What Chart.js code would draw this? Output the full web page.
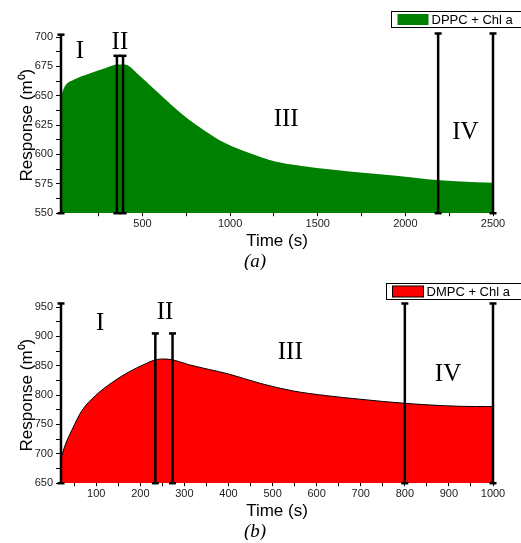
<!DOCTYPE html>
<html>
<head>
<meta charset="utf-8">
<script src="https://cdn.jsdelivr.net/npm/chart.js@4.4.1/dist/chart.umd.min.js"></script>
<style>
  body { margin: 0; background: #fff; }
  canvas { display: block; }
</style>
</head>
<body>
<canvas id="chartA" width="521" height="270"></canvas>
<canvas id="chartB" width="521" height="270"></canvas>
<script>
// panel (a) : DPPC + Chl a
const timeA = [35, 57, 114, 190, 286, 362, 400, 476, 571, 667, 762, 857, 971, 1114, 1257, 1400, 1590, 1743, 1933, 2124, 2314, 2500];
const respA = [650, 658, 664, 668.5, 673.5, 676.5, 676.5, 668, 655, 642, 630, 620, 609.7, 601, 594, 590.4, 587, 584.7, 582, 579, 577, 576];
const markTimeA = [35, 354, 389, 2187, 2500];
const markTopA = [702, 684, 684, 703, 703];
const regionsA = [["I", 143, 688], ["II", 371, 695.5], ["III", 1320, 630], ["IV", 2343, 619]];
const xMajorA = [500, 1000, 1500, 2000, 2500];
const xMinorA = [250, 750, 1250, 1750, 2250];
const yMajorA = [550, 575, 600, 625, 650, 675, 700];
const yMinorA = [562.5, 587.5, 612.5, 637.5, 662.5, 687.5];

// panel (b) : DMPC + Chl a
const timeB = [20, 30, 45, 67, 98, 135, 173, 211, 234, 256, 279, 309, 354, 400, 472, 547, 623, 698, 800, 887, 963, 1000];
const respB = [693, 716, 741, 773, 799, 821, 839, 853, 860, 861.5, 859, 852, 844, 836, 820, 807, 799, 793, 786, 782, 780.5, 780.5];
const markTimeB = [20, 234, 273, 800, 1000];
const markTopB = [956, 905, 905, 956, 956];
const regionsB = [["I", 109, 922], ["II", 256, 941], ["III", 540, 873], ["IV", 898, 836]];
const xMajorB = [100, 200, 300, 400, 500, 600, 700, 800, 900, 1000];
const xMinorB = [50, 150, 250, 350, 450, 550, 650, 750, 850, 950];
const yMajorB = [650, 700, 750, 800, 850, 900, 950];
const yMinorB = [675, 725, 775, 825, 875, 925];

// draws the roman numerals and the framed legend in the top right
const panelDeco = {
  id: 'panelDeco',
  afterDatasetsDraw(chart, args, opts) {
    const ctx = chart.ctx;
    const xs = chart.scales.x, ys = chart.scales.y;
    ctx.save();
    ctx.fillStyle = '#000';
    ctx.font = '25px "Liberation Serif", "Times New Roman", serif';
    ctx.textAlign = 'center';
    ctx.textBaseline = 'middle';
    opts.regions.forEach(r => {
      ctx.fillText(r[0], xs.getPixelForValue(r[1]), ys.getPixelForValue(r[2]));
    });
    // legend box
    const ds = chart.data.datasets[0];
    const lx = opts.legendX, ly = opts.legendY;
    ctx.lineWidth = 1;
    ctx.strokeStyle = '#000';
    ctx.fillStyle = '#fff';
    ctx.fillRect(lx, ly, chart.width - lx + 5, 16);
    ctx.strokeRect(lx, ly, chart.width - lx + 5, 16);
    ctx.fillStyle = ds.backgroundColor;
    ctx.fillRect(lx + 6, ly + 2.5, 31, 11);
    if (ds.borderWidth > 0) {
      ctx.strokeRect(lx + 6, ly + 2.5, 31, 11);
    }
    ctx.fillStyle = '#000';
    ctx.font = '13px "Liberation Sans", Arial, sans-serif';
    ctx.textAlign = 'left';
    ctx.fillText(ds.label, lx + 40, ly + 8.5);
    ctx.restore();
  }
};

function markerSets(times, tops, bottom) {
  return times.map((t, i) => ({
    data: [{x: t, y: bottom}, {x: t, y: tops[i]}],
    order: 0,
    borderColor: '#000',
    borderWidth: 2.5,
    pointStyle: 'line',
    pointRadius: 3.5,
    pointBorderWidth: 2.5,
    pointBorderColor: '#000',
    fill: false,
    clip: false,
    tension: 0
  }));
}

function makePanel(id, opt) {
  const tickFont = { family: '"Liberation Sans", Arial, sans-serif', size: 11 };
  const majX = opt.xMajor, majY = opt.yMajor;
  return new Chart(document.getElementById(id), {
    type: 'line',
    data: {
      datasets: [{
        label: opt.label,
        data: opt.time.map((t, i) => ({x: t, y: opt.resp[i]})),
        order: 1,
        backgroundColor: opt.fillColor,
        borderColor: opt.lineColor,
        borderWidth: opt.lineWidth,
        fill: 'start',
        pointRadius: 0,
        cubicInterpolationMode: 'monotone'
      }].concat(markerSets(opt.markTime, opt.markTop, opt.yMin))
    },
    options: {
      responsive: false,
      animation: false,
      layout: { padding: { top: opt.padTop, right: 28, left: 17, bottom: 0 } },
      scales: {
        x: {
          type: 'linear',
          min: opt.xMin, max: opt.xMax,
          afterBuildTicks: s => { s.ticks = majX.concat(opt.xMinor).sort((a, b) => a - b).map(v => ({value: v})); },
          ticks: {
            font: tickFont, color: '#222', maxRotation: 0, autoSkip: false, padding: 1,
            callback: v => majX.includes(v) ? String(v) : ''
          },
          grid: { drawOnChartArea: false, tickLength: 3, color: '#000', tickWidth: 1 },
          border: { display: false },
          title: { display: true, text: 'Time (s)', color: '#000',
            font: { family: '"Liberation Sans", Arial, sans-serif', size: 17 }, padding: { top: 0, bottom: 0 } }
        },
        y: {
          min: opt.yMin, max: opt.yMax,
          afterBuildTicks: s => { s.ticks = majY.concat(opt.yMinor).sort((a, b) => a - b).map(v => ({value: v})); },
          afterFit: s => { s.width = 44; },
          ticks: {
            font: tickFont, color: '#222', autoSkip: false, padding: 3,
            callback: v => majY.includes(v) ? String(v) : ''
          },
          grid: { drawOnChartArea: false, tickLength: 5, color: '#000', tickWidth: 1 },
          border: { display: false },
          title: { display: true, text: 'Response (m\u2070)', color: '#000',
            font: { family: '"Liberation Sans", Arial, sans-serif', size: 17 }, padding: { top: 0, bottom: 0 } }
        }
      },
      plugins: {
        legend: { display: false },
        tooltip: { enabled: false },
        title: {
          display: true, position: 'bottom', text: opt.panel, color: '#000',
          font: { family: '"Liberation Serif", "Times New Roman", serif', size: 19, style: 'italic', weight: 'normal', lineHeight: 0.8 },
          padding: { top: 3, bottom: 0 }
        },
        panelDeco: { regions: opt.regions, legendX: opt.legendX, legendY: opt.legendY }
      }
    },
    plugins: [panelDeco]
  });
}

makePanel('chartA', {
  label: 'DPPC + Chl a', panel: '(a)', padTop: 37,
  time: timeA, resp: respA, markTime: markTimeA, markTop: markTopA, regions: regionsA,
  xMin: 35, xMax: 2500, yMin: 550, yMax: 700,
  xMajor: xMajorA, xMinor: xMinorA, yMajor: yMajorA, yMinor: yMinorA,
  fillColor: '#008000', lineColor: '#008000', lineWidth: 0, legendX: 391.5, legendY: 11.5
});

makePanel('chartB', {
  label: 'DMPC + Chl a', panel: '(b)', padTop: 37,
  time: timeB, resp: respB, markTime: markTimeB, markTop: markTopB, regions: regionsB,
  xMin: 20, xMax: 1000, yMin: 650, yMax: 950,
  xMajor: xMajorB, xMinor: xMinorB, yMajor: yMajorB, yMinor: yMinorB,
  fillColor: '#ff0000', lineColor: '#000', lineWidth: 1, legendX: 386.5, legendY: 13.5
});
</script>
</body>
</html>
